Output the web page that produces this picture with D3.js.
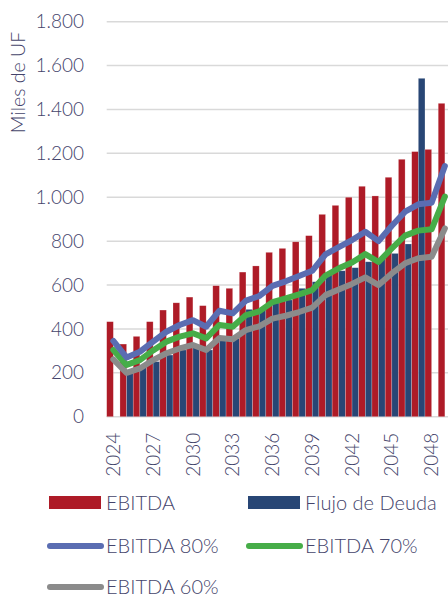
<!DOCTYPE html>
<html>
<head>
<meta charset="utf-8">
<script src="https://cdn.jsdelivr.net/npm/d3@7"></script>
<style>
  html, body { margin: 0; padding: 0; background: #fff; }
  svg { display: block; font-family: Lato, "Open Sans", sans-serif; }
  .tick text, .lbl { fill: #44446b; font-size: 19px; font-weight: 300; }
  .leg { font-size: 20px; }
</style>
</head>
<body>
<svg id="chart" width="448" height="601"></svg>
<script>
"use strict";

/* Chart data (Miles de UF) */
const YEARS = [2024, 2025, 2026, 2027, 2028, 2029, 2030, 2031, 2032, 2033, 2034, 2035, 2036,
  2037, 2038, 2039, 2040, 2041, 2042, 2043, 2044, 2045, 2046, 2047, 2048, 2049];
const EBITDA = [433, 331, 366, 433, 486, 519, 545, 506, 597, 585, 659, 687, 749,
  767, 797, 825, 922, 963, 1000, 1050, 1006, 1091, 1173, 1208, 1218, 1428];
const FLUJO = [0, 198, 228, 251, 281, 304, 316, 304, 349, 357, 489, 495, 518,
  532, 585, 615, 646, 665, 679, 706, 721, 744, 787, 1542, 0, 0];
const EBITDA_80 = [345, 270, 296, 342, 387, 418, 440, 410, 483, 471, 529, 550, 596,
  617, 641, 665, 740, 773, 805, 843, 800, 870, 934, 968, 975, 1142];
const EBITDA_70 = [304, 236, 258, 302, 342, 365, 380, 357, 418, 410, 463, 480, 522,
  539, 557, 577, 643, 676, 703, 741, 705, 767, 825, 848, 854, 1003];
const EBITDA_60 = [261, 200, 220, 258, 289, 311, 327, 304, 359, 353, 395, 412, 447,
  460, 477, 497, 554, 580, 605, 635, 600, 653, 699, 722, 729, 858];
const Y_TICKS = [0, 200, 400, 600, 800, 1000, 1200, 1400, 1600, 1800];
const X_TICKS = [2024, 2027, 2030, 2033, 2036, 2039, 2042, 2045, 2048];

const COLORS = {
  ebitda: "#ae1b27",
  flujo: "#284675",
  e80: "#5a6db2",
  e70: "#46ad48",
  e60: "#8b8b8b"
};

// spanish number format: 1.800
const fmt = d3.formatLocale({ decimal: ",", thousands: ".", grouping: [3], currency: ["", ""] }).format(",d");

const svg = d3.select("#chart");

/* scales - plot runs past the right edge, like the cropped original */
const x = d3.scaleBand()
  .domain(YEARS)
  .range([106.7, 451.5])
  .padding(0);

const xInner = d3.scaleBand()
  .domain(["ebitda", "flujo"])
  .range([0, x.bandwidth()]);

const y = d3.scaleLinear()
  .domain([0, 1800])
  .range([416.7, 21.7]);

/* gridlines */
svg.append("g")
  .selectAll("line")
  .data(Y_TICKS)
  .enter()
  .append("line")
  .attr("x1", 106.7)
  .attr("x2", 448)
  .attr("y1", d => y(d))
  .attr("y2", d => y(d))
  .attr("stroke", "#d9d9d9")
  .attr("stroke-width", 1.5);

/* y axis labels */
const yAxis = svg.append("g")
  .attr("transform", "translate(84,0)")
  .call(d3.axisLeft(y).tickValues(Y_TICKS).tickSize(0).tickPadding(0).tickFormat(fmt))
  .attr("font-family", null)
  .attr("font-size", null);
yAxis.select(".domain").remove();

svg.append("text")
  .attr("class", "lbl")
  .attr("transform", "translate(25,82.5) rotate(-90)")
  .attr("text-anchor", "middle")
  .style("font-size", "19.5px")
  .text("Miles de UF");

/* bars */
const barGroups = svg.append("g")
  .selectAll("g")
  .data(YEARS.map((yr, i) => ({ year: yr, ebitda: EBITDA[i], flujo: FLUJO[i] })))
  .enter()
  .append("g")
  .attr("transform", d => `translate(${x(d.year)},0)`);

barGroups.selectAll("rect")
  .data(d => ["ebitda", "flujo"].map(k => ({ key: k, value: d[k] })))
  .enter()
  .append("rect")
  .attr("x", d => xInner(d.key))
  .attr("width", xInner.bandwidth())
  .attr("y", d => y(d.value))
  .attr("height", d => y(0) - y(d.value))
  .attr("fill", d => COLORS[d.key])
  .attr("stroke", "#ffffff")
  .attr("stroke-opacity", 0.35)
  .attr("stroke-width", 0.6);

/* lines */
const line = d3.line()
  .x((d, i) => x(YEARS[i]) + x.bandwidth() / 2)
  .y(d => y(d));

const lineSeries = [
  { key: "e60", values: EBITDA_60 },
  { key: "e70", values: EBITDA_70 },
  { key: "e80", values: EBITDA_80 }
];

svg.append("g")
  .selectAll("path")
  .data(lineSeries)
  .enter()
  .append("path")
  .attr("d", d => line(d.values))
  .attr("fill", "none")
  .attr("stroke", d => COLORS[d.key])
  .attr("stroke-width", 6)
  .attr("stroke-linejoin", "round")
  .attr("stroke-linecap", "round");

/* x axis labels, rotated */
const xAxis = svg.append("g")
  .attr("transform", `translate(0,${y(0)})`)
  .call(d3.axisBottom(x).tickValues(X_TICKS).tickSize(0))
  .attr("font-family", null)
  .attr("font-size", null);
xAxis.select(".domain").remove();
xAxis.selectAll("text")
  .attr("transform", "rotate(-90)")
  .attr("x", -16)
  .attr("y", 0)
  .attr("dy", "0.35em")
  .attr("text-anchor", "end");

/* legend */
const legendItems = [
  { label: "EBITDA", key: "ebitda", kind: "rect", lx: 49, ly: 502.5 },
  { label: "Flujo de Deuda", key: "flujo", kind: "rect", lx: 248, ly: 502.5 },
  { label: "EBITDA 80%", key: "e80", kind: "line", lx: 49, ly: 546 },
  { label: "EBITDA 70%", key: "e70", kind: "line", lx: 248, ly: 546 },
  { label: "EBITDA 60%", key: "e60", kind: "line", lx: 49, ly: 587 }
];

const legend = svg.append("g")
  .selectAll("g")
  .data(legendItems)
  .enter()
  .append("g")
  .attr("transform", d => `translate(${d.lx},${d.ly})`);

legend.filter(d => d.kind === "rect")
  .append("rect")
  .attr("x", 0)
  .attr("y", -6.5)
  .attr("width", 52)
  .attr("height", 13)
  .attr("fill", d => COLORS[d.key]);

legend.filter(d => d.kind === "line")
  .append("line")
  .attr("x1", 1)
  .attr("x2", 52)
  .attr("y1", 0)
  .attr("y2", 0)
  .attr("stroke", d => COLORS[d.key])
  .attr("stroke-width", 6)
  .attr("stroke-linecap", "round");

legend.append("text")
  .attr("class", "lbl leg")
  .attr("x", 57)
  .attr("y", 0)
  .attr("dy", "0.35em")
  .text(d => d.label);
</script>
</body>
</html>
